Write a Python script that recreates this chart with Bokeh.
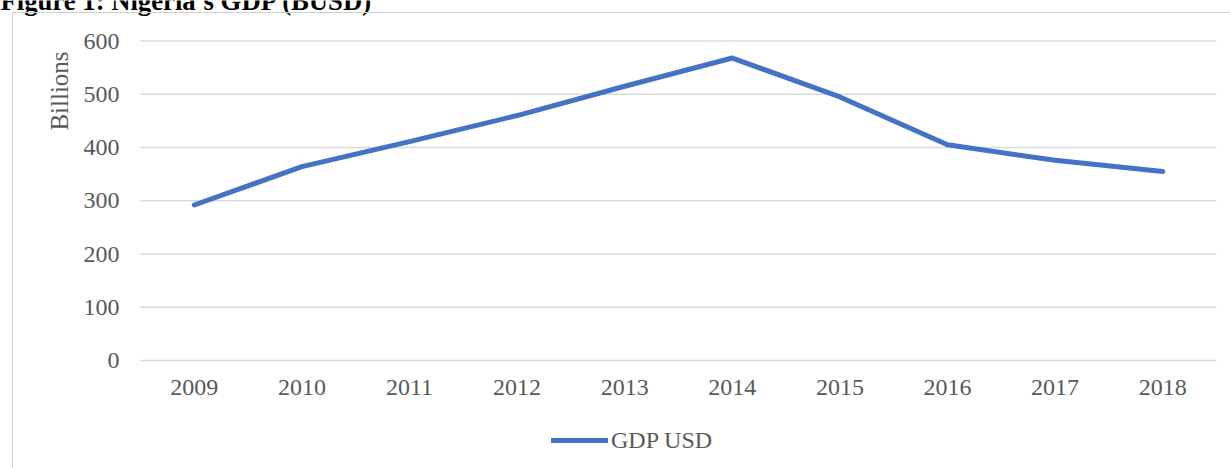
import math
from bokeh.plotting import figure
from bokeh.models import (Range1d, Label, Legend, LegendItem, FixedTicker,
                          ColumnDataSource, InlineStyleSheet)
from bokeh.embed import file_html
from bokeh.resources import INLINE

years = [2009, 2010, 2011, 2012, 2013, 2014, 2015, 2016, 2017, 2018]
year_labels = ["2009", "2010", "2011", "2012", "2013", "2014", "2015", "2016", "2017", "2018"]
gdp_usd = [292, 364, 411, 460, 515, 568, 495, 405, 376, 355]
y_ticks = [0, 100, 200, 300, 400, 500, 600]
title_text = "Figure 1: Nigeria\u2019s GDP (BUSD)"
y_label = "Billions"
series_name = "GDP USD"

FONT = "Liberation Serif"
GREY = "#595959"
BLUE = "#4472C4"
W, H = 1230, 468

# the plotting frame fills the whole picture; the ranges put the category
# band (2008.5 .. 2018.5) and the value band (0 .. 600) where the original has them
PX_PER_YEAR = 107.6
PX_PER_UNIT = 0.5325
x_start = years[0] - 193.8 / PX_PER_YEAR
y_start = -(H - 360) / PX_PER_UNIT
x_range = Range1d(x_start, x_start + W / PX_PER_YEAR)
y_range = Range1d(y_start, y_start + H / PX_PER_UNIT)

src = ColumnDataSource(dict(year=years, gdp=gdp_usd))

p = figure(width=W, height=H, x_range=x_range, y_range=y_range,
           output_backend="svg", toolbar_location=None, min_border=0,
           min_border_left=0, min_border_right=0, min_border_top=0,
           min_border_bottom=0)
p.outline_line_color = None
p.background_fill_color = "white"
p.border_fill_color = "white"
p.xgrid.visible = False
p.ygrid.visible = False

# horizontal gridlines across the category band
band_lo, band_hi = years[0] - 0.5, years[-1] + 0.5
p.segment(x0=[band_lo] * len(y_ticks), x1=[band_hi] * len(y_ticks),
          y0=y_ticks, y1=y_ticks, line_color="#D9D9D9", line_width=1.5)

r = p.line(x="year", y="gdp", source=src, line_width=5, line_color=BLUE,
           line_join="round", line_cap="round")

# axes, pinned inside the frame
xa, ya = p.xaxis[0], p.yaxis[0]
for ax in (xa, ya):
    ax.axis_line_color = None
    ax.major_tick_line_color = None
    ax.minor_tick_line_color = None
    ax.major_tick_in = 0
    ax.major_tick_out = 0
    ax.major_label_text_font = FONT
    ax.major_label_text_font_size = "24px"
    ax.major_label_text_color = GREY
xa.fixed_location = 0
xa.ticker = FixedTicker(ticks=years)
xa.major_label_overrides = dict(zip(years, year_labels))
xa.major_label_standoff = 19
ya.fixed_location = band_lo
ya.ticker = FixedTicker(ticks=y_ticks)
ya.major_label_standoff = 21

# chart border: only its left and top edges fall inside the picture
p.stylesheets = [InlineStyleSheet(css=(
    ":host::after { content: ''; position: absolute; left: 12px; top: 12px;"
    " right: 0; bottom: 0; border-left: 1px solid #D0D0D0;"
    " border-top: 1px solid #D0D0D0; pointer-events: none; }"))]

# y axis title (near the top, as in the original)
p.add_layout(Label(x=59, y=H - 90.5, x_units="screen", y_units="screen",
                   text=y_label, angle=math.pi / 2, text_align="center",
                   text_baseline="middle", text_font=FONT,
                   text_font_size="25px", text_color=GREY))

# chart title (its top lies above the picture, as in the original)
p.add_layout(Label(x=0, y=H, x_units="screen", y_units="screen",
                   text=title_text, text_align="left",
                   text_baseline="alphabetic", text_font=FONT,
                   text_font_size="26.7px", text_font_style="bold",
                   text_color="black"))

legend = Legend(items=[LegendItem(label=series_name, renderers=[r])],
                location=(551, H - 425 - 30), orientation="horizontal",
                glyph_width=57, glyph_height=30, label_height=30,
                label_standoff=3, padding=0, margin=0,
                border_line_color=None, background_fill_alpha=0,
                label_text_font=FONT, label_text_font_size="24px",
                label_text_color=GREY, label_text_baseline="middle")
p.add_layout(legend, "center")

open("out.html", "w").write(file_html(p, INLINE))
